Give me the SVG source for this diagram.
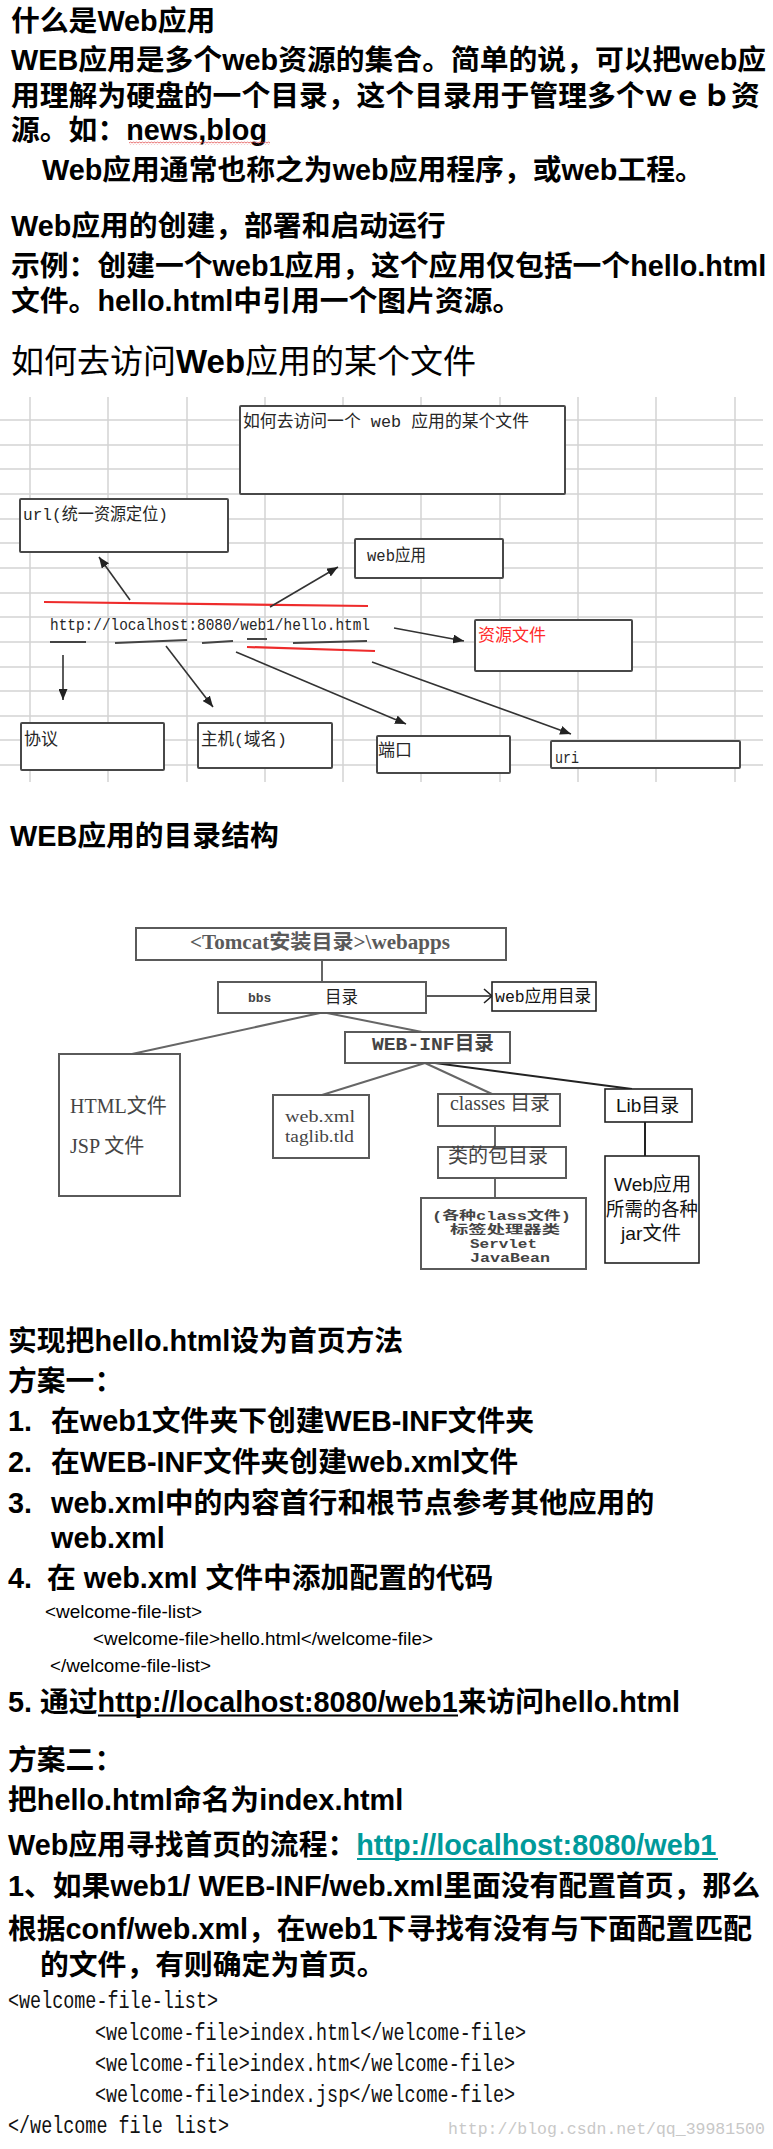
<svg xmlns="http://www.w3.org/2000/svg" width="773" height="2149" viewBox="0 0 773 2149">
<style>
.b{font-family:"Liberation Sans","Noto Sans CJK SC",sans-serif;font-weight:bold;font-size:28.8px;fill:#000}
.h2{font-family:"Liberation Sans","Noto Sans CJK SC",sans-serif;font-size:33px;fill:#000}
.d1{font-family:"Liberation Mono","Noto Sans CJK SC",monospace;font-size:17px;fill:#262626}
.grid{stroke:#d3d3d3;stroke-width:1.5}
.box{fill:#fff;stroke:#484848;stroke-width:2}
.tbox{fill:#fff;stroke:#5a5a5a;stroke-width:2}
.dbox{fill:#fff;stroke:#222;stroke-width:1.6}
.arr{stroke:#333;stroke-width:1.6;fill:none;marker-end:url(#ah)}
.red{stroke:#ee2b2b;stroke-width:2.2}
.dash{stroke:#444;stroke-width:2}
.tl{stroke:#666;stroke-width:2;fill:none}
.ser{font-family:"Liberation Serif","Noto Sans CJK SC",serif;font-size:20px;fill:#444}
.mono{font-family:"Liberation Mono","Noto Sans CJK SC",monospace;fill:#444;font-weight:bold}
.sans{font-family:"Liberation Sans","Noto Sans CJK SC",sans-serif;font-size:19px;fill:#111}
.cs{font-family:"Liberation Sans","Noto Sans CJK SC",sans-serif;font-size:19px;fill:#000}
.code{font-family:"Liberation Mono","Noto Sans CJK SC",monospace;font-size:23px;fill:#111}
</style>
<defs>
<marker id="ah" markerWidth="11" markerHeight="9" refX="11" refY="4.5" orient="auto" markerUnits="userSpaceOnUse"><path d="M0,0 L11,4.5 L0,9 z" fill="#222"/></marker>
<pattern id="wavy" width="3" height="3" patternUnits="userSpaceOnUse"><path d="M0 2.4 L1.5 0.6 L3 2.4" stroke="#e03a3a" stroke-width="0.8" fill="none"/></pattern>
</defs>
<rect width="773" height="2149" fill="#fff"/>

<g id="intro">
<text class="b" x="11" y="31">什么是Web应用</text>
<text class="b" x="11" y="70">WEB应用是多个web资源的集合。简单的说，可以把web应</text>
<text class="b" x="11" y="106">用理解为硬盘的一个目录，这个目录用于管理多个ｗｅｂ资</text>
<text class="b" x="11" y="140">源。如：news,blog</text>
<rect x="129" y="141.5" width="141" height="3" fill="url(#wavy)"/>
<text class="b" x="42" y="180">Web应用通常也称之为web应用程序，或web工程。</text>
<text class="b" x="11" y="236">Web应用的创建，部署和启动运行</text>
<text class="b" x="11" y="276">示例：创建一个web1应用，这个应用仅包括一个hello.html</text>
<text class="b" x="11" y="311">文件。hello.html中引用一个图片资源。</text>
<text class="h2" x="11" y="373">如何去访问<tspan font-weight="bold">Web</tspan>应用的某个文件</text>
</g>

<g id="url-diagram">
<g id="grid">
<line class="grid" x1="0" y1="420" x2="763" y2="420"/>
<line class="grid" x1="0" y1="445" x2="763" y2="445"/>
<line class="grid" x1="0" y1="469" x2="763" y2="469"/>
<line class="grid" x1="0" y1="494" x2="763" y2="494"/>
<line class="grid" x1="0" y1="519" x2="763" y2="519"/>
<line class="grid" x1="0" y1="543" x2="763" y2="543"/>
<line class="grid" x1="0" y1="568" x2="763" y2="568"/>
<line class="grid" x1="0" y1="593" x2="763" y2="593"/>
<line class="grid" x1="0" y1="617" x2="763" y2="617"/>
<line class="grid" x1="0" y1="642" x2="763" y2="642"/>
<line class="grid" x1="0" y1="667" x2="763" y2="667"/>
<line class="grid" x1="0" y1="691" x2="763" y2="691"/>
<line class="grid" x1="0" y1="716" x2="763" y2="716"/>
<line class="grid" x1="0" y1="740" x2="763" y2="740"/>
<line class="grid" x1="0" y1="765" x2="763" y2="765"/>
<line class="grid" x1="30" y1="397" x2="30" y2="782"/>
<line class="grid" x1="108" y1="397" x2="108" y2="782"/>
<line class="grid" x1="187" y1="397" x2="187" y2="782"/>
<line class="grid" x1="265" y1="397" x2="265" y2="782"/>
<line class="grid" x1="343" y1="397" x2="343" y2="782"/>
<line class="grid" x1="421" y1="397" x2="421" y2="782"/>
<line class="grid" x1="500" y1="397" x2="500" y2="782"/>
<line class="grid" x1="578" y1="397" x2="578" y2="782"/>
<line class="grid" x1="656" y1="397" x2="656" y2="782"/>
<line class="grid" x1="735" y1="397" x2="735" y2="782"/>
</g>
<g id="n-title"><rect class="box" x="240" y="406" width="325" height="88" rx="1"/><text class="d1" x="243" y="427" textLength="286" lengthAdjust="spacingAndGlyphs">如何去访问一个 web 应用的某个文件</text></g>
<g id="n-url"><rect class="box" x="20" y="499" width="208" height="53" rx="1"/><text class="d1" x="23" y="520" textLength="145" lengthAdjust="spacingAndGlyphs">url(统一资源定位)</text></g>
<g id="n-webapp"><rect class="box" x="355" y="539" width="148" height="39" rx="1"/><text class="d1" x="367" y="561" textLength="59" lengthAdjust="spacingAndGlyphs">web应用</text></g>
<g id="n-res"><rect class="box" x="475" y="620" width="157" height="51" rx="1"/><text class="d1" x="478" y="641" style="fill:#ff2a2a">资源文件</text></g>
<g id="n-proto"><rect class="box" x="21" y="723" width="143" height="47" rx="1"/><text class="d1" x="24" y="745">协议</text></g>
<g id="n-host"><rect class="box" x="198" y="723" width="134" height="45" rx="1"/><text class="d1" x="201" y="745" textLength="86" lengthAdjust="spacingAndGlyphs">主机(域名)</text></g>
<g id="n-port"><rect class="box" x="377" y="736" width="133" height="37" rx="1"/><text class="d1" x="378" y="756">端口</text></g>
<g id="n-uri"><rect class="box" x="551" y="741" width="189" height="27" rx="1"/><text class="d1" x="555" y="763" textLength="24" lengthAdjust="spacingAndGlyphs">uri</text></g>
<g id="n-urltext"><text class="d1" x="50" y="630" textLength="320" lengthAdjust="spacingAndGlyphs">http://localhost:8080/web1/hello.html</text></g>
<g id="url-connectors">
<line class="red" x1="44" y1="602" x2="368" y2="606"/>
<line class="red" x1="247" y1="647" x2="375" y2="651"/>
<line class="dash" x1="50" y1="642" x2="86" y2="642"/>
<line class="dash" x1="115" y1="643" x2="187" y2="640"/>
<line class="dash" x1="202" y1="643" x2="233" y2="641"/>
<line class="dash" x1="247" y1="639" x2="267" y2="639"/>
<line class="dash" x1="293" y1="643" x2="367" y2="641"/>
<line class="arr" x1="130" y1="600" x2="99" y2="557"/>
<line class="arr" x1="270" y1="607" x2="338" y2="567"/>
<line class="arr" x1="63" y1="655" x2="63" y2="700"/>
<line class="arr" x1="166" y1="646" x2="213" y2="707"/>
<line class="arr" x1="236" y1="652" x2="406" y2="724"/>
<line class="arr" x1="372" y1="662" x2="571" y2="734"/>
<line class="arr" x1="394" y1="628" x2="464" y2="641"/>
</g>
</g>

<text class="b" x="10" y="846">WEB应用的目录结构</text>

<g id="tree">
<g id="tree-connectors">
<line class="tl" x1="322" y1="960" x2="322" y2="982"/>
<line class="tl" x1="320" y1="1013" x2="132" y2="1054"/>
<line class="tl" x1="327" y1="1013" x2="422" y2="1032"/>
<line class="tl" x1="425" y1="1063" x2="322" y2="1095"/>
<line class="tl" x1="425" y1="1063" x2="492" y2="1094"/>
<line class="tl" x1="435" y1="1063" x2="632" y2="1089" style="stroke:#222"/>
<line class="tl" x1="495" y1="1126" x2="495" y2="1147"/>
<line class="tl" x1="495" y1="1178" x2="495" y2="1198"/>
<line class="tl" x1="645" y1="1122" x2="645" y2="1156" style="stroke:#222"/>
<line class="tl" x1="426" y1="996" x2="491" y2="996" style="stroke:#222;stroke-width:1.6"/>
<polyline class="tl" points="484,989 492,996 484,1003" style="stroke:#222;stroke-width:1.6"/>
</g>
<g id="t-tomcat"><rect class="tbox" x="136" y="928" width="370" height="32"/><text class="ser" x="190" y="949" textLength="260" lengthAdjust="spacingAndGlyphs" style="font-weight:bold;fill:#5a5a5a">&lt;Tomcat安装目录&gt;\webapps</text></g>
<g id="t-bbs"><rect class="tbox" x="218" y="982" width="208" height="31"/><text class="mono" x="248" y="1002" font-size="13">bbs</text><text class="ser" x="325" y="1003" style="font-size:16.5px;fill:#222">目录</text></g>
<g id="t-webappdir"><rect class="dbox" x="492" y="982" width="104" height="29"/><text class="d1" x="495" y="1002" textLength="96" lengthAdjust="spacingAndGlyphs" style="fill:#111">web应用目录</text></g>
<g id="t-webinf"><rect class="tbox" x="345" y="1032" width="165" height="31"/><text class="mono" x="372" y="1050" font-size="19" textLength="122" lengthAdjust="spacingAndGlyphs">WEB-INF目录</text></g>
<g id="t-html"><rect class="tbox" x="59" y="1054" width="121" height="142"/><text class="ser" x="70" y="1113">HTML文件</text><text class="ser" x="70" y="1153">JSP 文件</text></g>
<g id="t-webxml"><rect class="tbox" x="273" y="1095" width="96" height="63"/><text class="ser" x="285" y="1122" textLength="70" lengthAdjust="spacingAndGlyphs" style="font-size:16px">web.xml</text><text class="ser" x="285" y="1142" textLength="69" lengthAdjust="spacingAndGlyphs" style="font-size:16px">taglib.tld</text></g>
<g id="t-classes"><rect class="tbox" x="438" y="1094" width="122" height="32"/><text class="ser" x="450" y="1110" textLength="100" lengthAdjust="spacingAndGlyphs">classes 目录</text></g>
<g id="t-pkg"><rect class="tbox" x="438" y="1147" width="128" height="31"/><text class="ser" x="448" y="1163">类的包目录</text></g>
<g id="t-classfiles"><rect class="tbox" x="421" y="1198" width="165" height="71"/>
<text class="mono" x="432" y="1220" font-size="12" textLength="139" lengthAdjust="spacingAndGlyphs">(各种class文件)</text>
<text class="mono" x="450" y="1234" font-size="12" textLength="110" lengthAdjust="spacingAndGlyphs">标签处理器类</text>
<text class="mono" x="470" y="1248" font-size="12" textLength="67" lengthAdjust="spacingAndGlyphs">Servlet</text>
<text class="mono" x="470" y="1262" font-size="12" textLength="80" lengthAdjust="spacingAndGlyphs">JavaBean</text></g>
<g id="t-lib"><rect class="dbox" x="605" y="1089" width="87" height="33"/><text class="sans" x="616" y="1112">Lib目录</text></g>
<g id="t-jar"><rect class="dbox" x="605" y="1156" width="94" height="107"/><text class="sans" x="614" y="1191" textLength="77" lengthAdjust="spacingAndGlyphs">Web应用</text><text class="sans" x="606" y="1216" textLength="92" lengthAdjust="spacingAndGlyphs">所需的各种</text><text class="sans" x="621" y="1240" textLength="60" lengthAdjust="spacingAndGlyphs">jar文件</text></g>
</g>

<g id="plan1">
<text class="b" x="8" y="1351">实现把hello.html设为首页方法</text>
<text class="b" x="8" y="1391">方案一：</text>
<text class="b" x="8" y="1431">1.<tspan x="51">在web1文件夹下创建WEB-INF文件夹</tspan></text>
<text class="b" x="8" y="1472">2.<tspan x="51">在WEB-INF文件夹创建web.xml文件</tspan></text>
<text class="b" x="8" y="1513">3.<tspan x="51">web.xml中的内容首行和根节点参考其他应用的</tspan></text>
<text class="b" x="51" y="1548">web.xml</text>
<text class="b" x="8" y="1588">4.<tspan x="47">在 web.xml 文件中添加配置的代码</tspan></text>
<text class="cs" x="45" y="1618" textLength="157" lengthAdjust="spacingAndGlyphs">&lt;welcome-file-list&gt;</text>
<text class="cs" x="93" y="1645" textLength="340" lengthAdjust="spacingAndGlyphs">&lt;welcome-file&gt;hello.html&lt;/welcome-file&gt;</text>
<text class="cs" x="50" y="1672" textLength="161" lengthAdjust="spacingAndGlyphs">&lt;/welcome-file-list&gt;</text>
<text class="b" x="8" y="1712">5. 通过http://localhost:8080/web1来访问hello.html</text>
<line x1="98" y1="1715.5" x2="458" y2="1715.5" stroke="#000" stroke-width="2"/>
</g>

<g id="plan2">
<text class="b" x="8" y="1770">方案二：</text>
<text class="b" x="8" y="1810">把hello.html命名为index.html</text>
<text class="b" x="8" y="1855">Web应用寻找首页的流程：<tspan style="fill:#009a9a">http://localhost:8080/web1</tspan></text>
<line x1="357" y1="1859" x2="718" y2="1859" stroke="#009a9a" stroke-width="2"/>
<text class="b" x="8" y="1896">1、如果web1/ WEB-INF/web.xml里面没有配置首页，那么</text>
<text class="b" x="8" y="1939">根据conf/web.xml，在web1下寻找有没有与下面配置匹配</text>
<text class="b" x="40" y="1975">的文件，有则确定为首页。</text>
<text class="code" x="8" y="2008" textLength="210" lengthAdjust="spacingAndGlyphs">&lt;welcome-file-list&gt;</text>
<text class="code" x="95" y="2040" textLength="431" lengthAdjust="spacingAndGlyphs">&lt;welcome-file&gt;index.html&lt;/welcome-file&gt;</text>
<text class="code" x="95" y="2071" textLength="420" lengthAdjust="spacingAndGlyphs">&lt;welcome-file&gt;index.htm&lt;/welcome-file&gt;</text>
<text class="code" x="95" y="2102" textLength="420" lengthAdjust="spacingAndGlyphs">&lt;welcome-file&gt;index.jsp&lt;/welcome-file&gt;</text>
<text class="code" x="8" y="2133" textLength="221" lengthAdjust="spacingAndGlyphs">&lt;/welcome file list&gt;</text>
<text class="code" x="448" y="2134" style="font-size:16.5px;fill:#c8c8c8">http://blog.csdn.net/qq_39981500</text>
</g>
</svg>
